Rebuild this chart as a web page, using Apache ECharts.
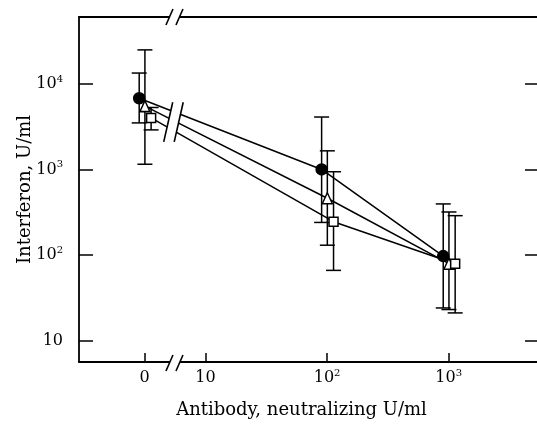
<!DOCTYPE html>
<html><head><meta charset="utf-8">
<script src="https://cdn.jsdelivr.net/npm/echarts@6/dist/echarts.min.js"></script>
<style>html,body{margin:0;padding:0;background:#fff}#c{width:537px;height:424px}</style>
</head><body><div id="c"></div>
<script>
// ---- data ----
// antibody axis is log10 with a break; the "0 U/ml" dose is drawn left of the break at 0.5
const xTickPos = [0.5, 1, 2, 3];
const xTickBase = ['0', '10', '10', '10'];
const xTickSup = ['', '', '2', '3'];
const dosePos = [0.5, 2, 3];               // doses: 0, 10^2, 10^3 U/ml
const seriesOffset = [-0.045, 0.002, 0.053]; // small horizontal stagger used in the figure
const yTicks = [10, 100, 1000, 10000];
const yTickBase = ['10', '10', '10', '10'];
const yTickSup = ['', '2', '3', '4'];

const circleMean = [6800, 1000, 97];
const circleLow  = [3500, 240, 24];
const circleHigh = [13400, 4100, 395];

const triMean = [5500, 460, 79];
const triLow  = [1150, 130, 23];
const triHigh = [25000, 1650, 318];

const sqMean = [4000, 245, 79];
const sqLow  = [2900, 66, 21];
const sqHigh = [5300, 940, 288];

const xTitle = 'Antibody, neutralizing U/ml';
const yTitle = 'Interferon, U/ml';

// ---- chart ----
const FONT = 'DejaVu Serif';
const chart = echarts.init(document.getElementById('c'), null, {renderer: 'canvas'});
const xMin = -0.04, xMax = 3.726, yMin = 5.6, yMax = 60600;

function pts(mean, k) { return mean.map((v, i) => [dosePos[i] + seriesOffset[k], v]); }
function bars(lo, hi, k) { return lo.map((v, i) => [dosePos[i] + seriesOffset[k], v, hi[i]]); }

function errRender(params, api) {
  const x = api.value(0);
  const pLo = api.coord([x, api.value(1)]);
  const pHi = api.coord([x, api.value(2)]);
  const w = 7.5;
  const style = {stroke: '#000', lineWidth: 1.5};
  return {type: 'group', children: [
    {type: 'line', shape: {x1: pLo[0], y1: pLo[1], x2: pHi[0], y2: pHi[1]}, style},
    {type: 'line', shape: {x1: pLo[0] - w, y1: pLo[1], x2: pLo[0] + w, y2: pLo[1]}, style},
    {type: 'line', shape: {x1: pHi[0] - w, y1: pHi[1], x2: pHi[0] + w, y2: pHi[1]}, style}
  ]};
}

const rich = {
  b: {fontFamily: FONT, fontSize: 16, color: '#000', lineHeight: 20},
  s: {fontFamily: FONT, fontSize: 10, color: '#000', lineHeight: 11, verticalAlign: 'top'}
};
function fmt(base, sup) { return sup ? '{b|' + base + '}{s|' + sup + '}' : '{b|' + base + '}'; }

const axisLineStyle = {color: '#000', width: 1.8};

function errSeries(lo, hi, k) {
  return {type: 'custom', renderItem: errRender, data: bars(lo, hi, k),
    encode: {x: 0, y: [1, 2]}, z: 2, silent: true, animation: false};
}
function lineSeries(name, mean, k, symbol, size, fill) {
  return {type: 'line', name, data: pts(mean, k), symbol, symbolSize: size,
    showSymbol: true, z: 5, silent: true, animation: false,
    lineStyle: {color: '#000', width: 1.5},
    itemStyle: {color: fill, borderColor: '#000', borderWidth: 1.5, opacity: 1}};
}

chart.setOption({
  backgroundColor: '#fff',
  animation: false,
  grid: {left: 79, right: 0, top: 17, bottom: 60, containLabel: false},
  xAxis: [{
    type: 'value', min: xMin, max: xMax, position: 'bottom',
    axisLine: {show: true, onZero: false, lineStyle: axisLineStyle},
    axisTick: {show: true, inside: true, length: 9, lineStyle: {color: '#000', width: 1.5}, customValues: xTickPos},
    axisLabel: {show: true, margin: 6, customValues: xTickPos, rich,
      formatter: v => { const i = xTickPos.findIndex(t => Math.abs(t - v) < 1e-6); return i < 0 ? '' : fmt(xTickBase[i], xTickSup[i]); }},
    splitLine: {show: false},
    name: xTitle, nameLocation: 'middle', nameGap: 39, nameMoveOverlap: false,
    nameTextStyle: {fontFamily: FONT, fontSize: 18, color: '#000', padding: [0, 13, 0, 0]}
  }, {
    type: 'value', min: xMin, max: xMax, position: 'top',
    axisLine: {show: true, onZero: false, lineStyle: axisLineStyle},
    axisTick: {show: false}, axisLabel: {show: false}, splitLine: {show: false}
  }],
  yAxis: [{
    type: 'log', logBase: 10, min: yMin, max: yMax, position: 'left',
    axisLine: {show: true, onZero: false, lineStyle: axisLineStyle},
    axisTick: {show: true, inside: true, length: 14, lineStyle: {color: '#000', width: 1.5}, customValues: yTicks},
    axisLabel: {show: true, margin: 16, customValues: yTicks, rich,
      formatter: v => { const i = yTicks.findIndex(t => Math.abs(t - v) / t < 1e-6); return i < 0 ? '' : fmt(yTickBase[i], yTickSup[i]); }},
    minorTick: {show: false}, splitLine: {show: false},
    name: yTitle, nameLocation: 'middle', nameGap: 45, nameRotate: 90, nameMoveOverlap: false,
    nameTextStyle: {fontFamily: FONT, fontSize: 18, color: '#000'}
  }, {
    type: 'log', logBase: 10, min: yMin, max: yMax, position: 'right',
    axisLine: {show: false, onZero: false},
    axisTick: {show: true, inside: true, length: 12, lineStyle: {color: '#000', width: 1.5}, customValues: yTicks},
    axisLabel: {show: false}, splitLine: {show: false}, minorTick: {show: false}
  }],
  series: [
    errSeries(circleLow, circleHigh, 0),
    errSeries(triLow, triHigh, 1),
    errSeries(sqLow, sqHigh, 2),
    lineSeries('circle', circleMean, 0, 'circle', 11, '#000'),
    lineSeries('triangle', triMean, 1, 'triangle', [10, 11], '#fff'),
    lineSeries('square', sqMean, 2, 'rect', 9, '#fff')
  ]
});

// ---- break marks ("//") on the axes and on the connecting lines ----
const breakX = 0.745;
const bx = chart.convertToPixel({xAxisIndex: 0}, breakX);
const yBottom = chart.convertToPixel({yAxisIndex: 0}, yMin);
const yTop = chart.convertToPixel({yAxisIndex: 0}, yMax);
const lineTop = chart.convertToPixel({yAxisIndex: 0}, 6100);
const lineBot = chart.convertToPixel({yAxisIndex: 0}, 2100);

function slashPair(cx, y1, y2, dx, gap) {
  const half = gap / 2;
  const a1 = [cx - half + dx, y1], a2 = [cx - half - dx, y2];
  const b1 = [cx + half + dx, y1], b2 = [cx + half - dx, y2];
  const st = {stroke: '#000', lineWidth: 1.6};
  return [
    {type: 'polygon', z: 100, shape: {points: [a1, b1, b2, a2]}, style: {fill: '#fff'}},
    {type: 'line', z: 101, shape: {x1: a1[0], y1: a1[1], x2: a2[0], y2: a2[1]}, style: st},
    {type: 'line', z: 101, shape: {x1: b1[0], y1: b1[1], x2: b2[0], y2: b2[1]}, style: st}
  ];
}
chart.setOption({graphic: [].concat(
  slashPair(bx - 1, lineTop, lineBot, 4.5, 10.5),
  slashPair(bx, yBottom - 7, yBottom + 9, 3.5, 10),
  slashPair(bx, yTop - 8, yTop + 8, 3.5, 10)
)});
</script>
</body></html>
